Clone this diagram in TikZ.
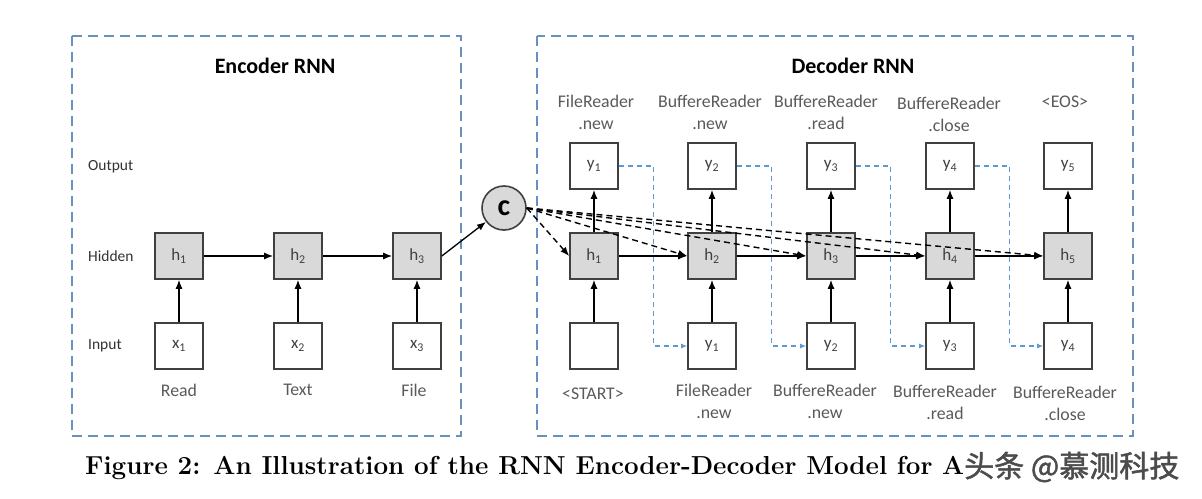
\documentclass[tikz,border=0pt]{standalone}
\usepackage{fontspec}
\setsansfont{Carlito}
\newfontfamily\wmfont{Noto Sans CJK SC}[FakeBold=1.5]
\usetikzlibrary{arrows.meta}
\definecolor{frameblue}{RGB}{105,145,190}
\definecolor{fbblue}{RGB}{91,155,213}
\definecolor{boxgray}{RGB}{217,217,217}
\definecolor{edgegray}{RGB}{64,64,64}
\definecolor{labgray}{RGB}{90,90,90}
\begin{document}
\begin{tikzpicture}[x=1pt,y=-1pt,
  cell/.style={draw=edgegray, line width=1.6pt, minimum width=48pt, minimum height=46pt, inner sep=0pt, font=\sffamily\fontsize{17}{17}\selectfont, text=edgegray},
  hid/.style={cell, fill=boxgray},
  io/.style={cell, fill=white},
  arr/.style={-{Latex[length=9pt,width=7pt]}, line width=1.3pt, black},
  darr/.style={arr, line width=1.4pt, dash pattern=on 6pt off 4pt},
  farr/.style={-{Latex[length=6pt,width=5pt]}, line width=1.1pt, fbblue, dash pattern=on 5pt off 4pt},
  frame/.style={draw=frameblue, line width=1.6pt, dash pattern=on 10pt off 6pt},
  lab/.style={font=\sffamily\fontsize{17.8}{22.5}\selectfont, text=labgray, align=center, inner sep=0pt},
  rowlab/.style={font=\sffamily\fontsize{15.5}{16}\selectfont, text=black!80, anchor=west, inner sep=0pt},
  ttl/.style={font=\sffamily\bfseries\fontsize{22}{22}\selectfont},
  cnode/.style={circle, draw=edgegray, line width=1.6pt, fill=boxgray, minimum size=44pt, inner sep=0pt, font=\sffamily\bfseries\fontsize{30}{30}\selectfont}
]
\useasboundingbox (0,0) rectangle (1202,498);
\fill[white] (0,0) rectangle (1202,498);

% frames
\draw[frame] (72,36) rectangle (461,436);
\draw[frame] (537,36) rectangle (1133,436);
\node[ttl] (enct) at (275,66) {Encoder RNN};
\node[ttl] (dect) at (853,66) {Decoder RNN};

% row labels
\node[rowlab] (rout) at (88,167) {Output};
\node[rowlab] (rhid) at (88,256) {Hidden};
\node[rowlab] (rin)  at (88,346) {Input};

% encoder
\node[hid] (eh1) at (179,256) {h\textsubscript{1}};
\node[hid] (eh2) at (298,256) {h\textsubscript{2}};
\node[hid] (eh3) at (417,256) {h\textsubscript{3}};
\node[io] (ex1) at (179,346) {x\textsubscript{1}};
\node[io] (ex2) at (298,346) {x\textsubscript{2}};
\node[io] (ex3) at (417,346) {x\textsubscript{3}};
\node[lab] (er1) at (179,390) {Read};
\node[lab] (er2) at (298,390) {Text};
\node[lab] (er3) at (414,390) {File};
\draw[arr] (ex1) -- (eh1);
\draw[arr] (ex2) -- (eh2);
\draw[arr] (ex3) -- (eh3);
\draw[arr] (eh1) -- (eh2);
\draw[arr] (eh2) -- (eh3);

% context
\node[cnode] (c) at (504,208) {c};
\draw[arr] (eh3.east) -- (c);

% decoder
\node[hid] (dh1) at (594,256) {h\textsubscript{1}};
\node[hid] (dh2) at (712,256) {h\textsubscript{2}};
\node[hid] (dh3) at (831,256) {h\textsubscript{3}};
\node[hid] (dh4) at (950,256) {h\textsubscript{4}};
\node[hid] (dh5) at (1068,256) {h\textsubscript{5}};
\node[io] (dy1) at (594,166) {y\textsubscript{1}};
\node[io] (dy2) at (712,166) {y\textsubscript{2}};
\node[io] (dy3) at (831,166) {y\textsubscript{3}};
\node[io] (dy4) at (950,166) {y\textsubscript{4}};
\node[io] (dy5) at (1068,166) {y\textsubscript{5}};
\node[io] (dx1) at (594,346) {};
\node[io] (dx2) at (712,346) {y\textsubscript{1}};
\node[io] (dx3) at (831,346) {y\textsubscript{2}};
\node[io] (dx4) at (950,346) {y\textsubscript{3}};
\node[io] (dx5) at (1068,346) {y\textsubscript{4}};

% top labels
\node[lab] (t1) at (596,112.5) {FileReader\\.new};
\node[lab] (t2) at (710,112.5) {BuffereReader\\.new};
\node[lab] (t3) at (826,112.5) {BuffereReader\\.read};
\node[lab] (t4) at (949,114.5) {BuffereReader\\.close};
\node[lab] (t5) at (1065,102) {<EOS>};
% bottom labels
\node[lab] (b1) at (593,394) {<START>};
\node[lab] (b2) at (714,401.5) {FileReader\\.new};
\node[lab] (b3) at (825,401.5) {BuffereReader\\.new};
\node[lab] (b4) at (945,402.5) {BuffereReader\\.read};
\node[lab] (b5) at (1065,403.5) {BuffereReader\\.close};

% decoder solid arrows
\foreach \i in {1,...,5}{
  \draw[arr] (dx\i) -- (dh\i);
  \draw[arr] (dh\i) -- (dy\i);
}
\draw[arr] (dh1) -- (dh2);
\draw[arr] (dh2) -- (dh3);
\draw[arr] (dh3) -- (dh4);
\draw[arr] (dh4) -- (dh5);

% feedback arrows
\draw[farr] (dy1.east) -- ++(35,0) |- (dx2.west);
\draw[farr] (dy2.east) -- ++(35,0) |- (dx3.west);
\draw[farr] (dy3.east) -- ++(35,0) |- (dx4.west);
\draw[farr] (dy4.east) -- ++(35,0) |- (dx5.west);

% context dashed arrows
\foreach \i in {1,...,5}{
  \draw[darr] (c.east) -- (dh\i.west);
}

% caption
\node[anchor=base west, inner sep=0pt, font=\bfseries\fontsize{26}{26}\selectfont] (cap) at (85,474) {Figure 2: An Illustration of the RNN Encoder-Decoder Model for A};

% watermark
\node[anchor=west, inner sep=0pt, font=\wmfont\fontsize{30}{30}\selectfont, text=black!70] (wm) at (964,467) {头条 @慕测科技};
\end{tikzpicture}
\end{document}
